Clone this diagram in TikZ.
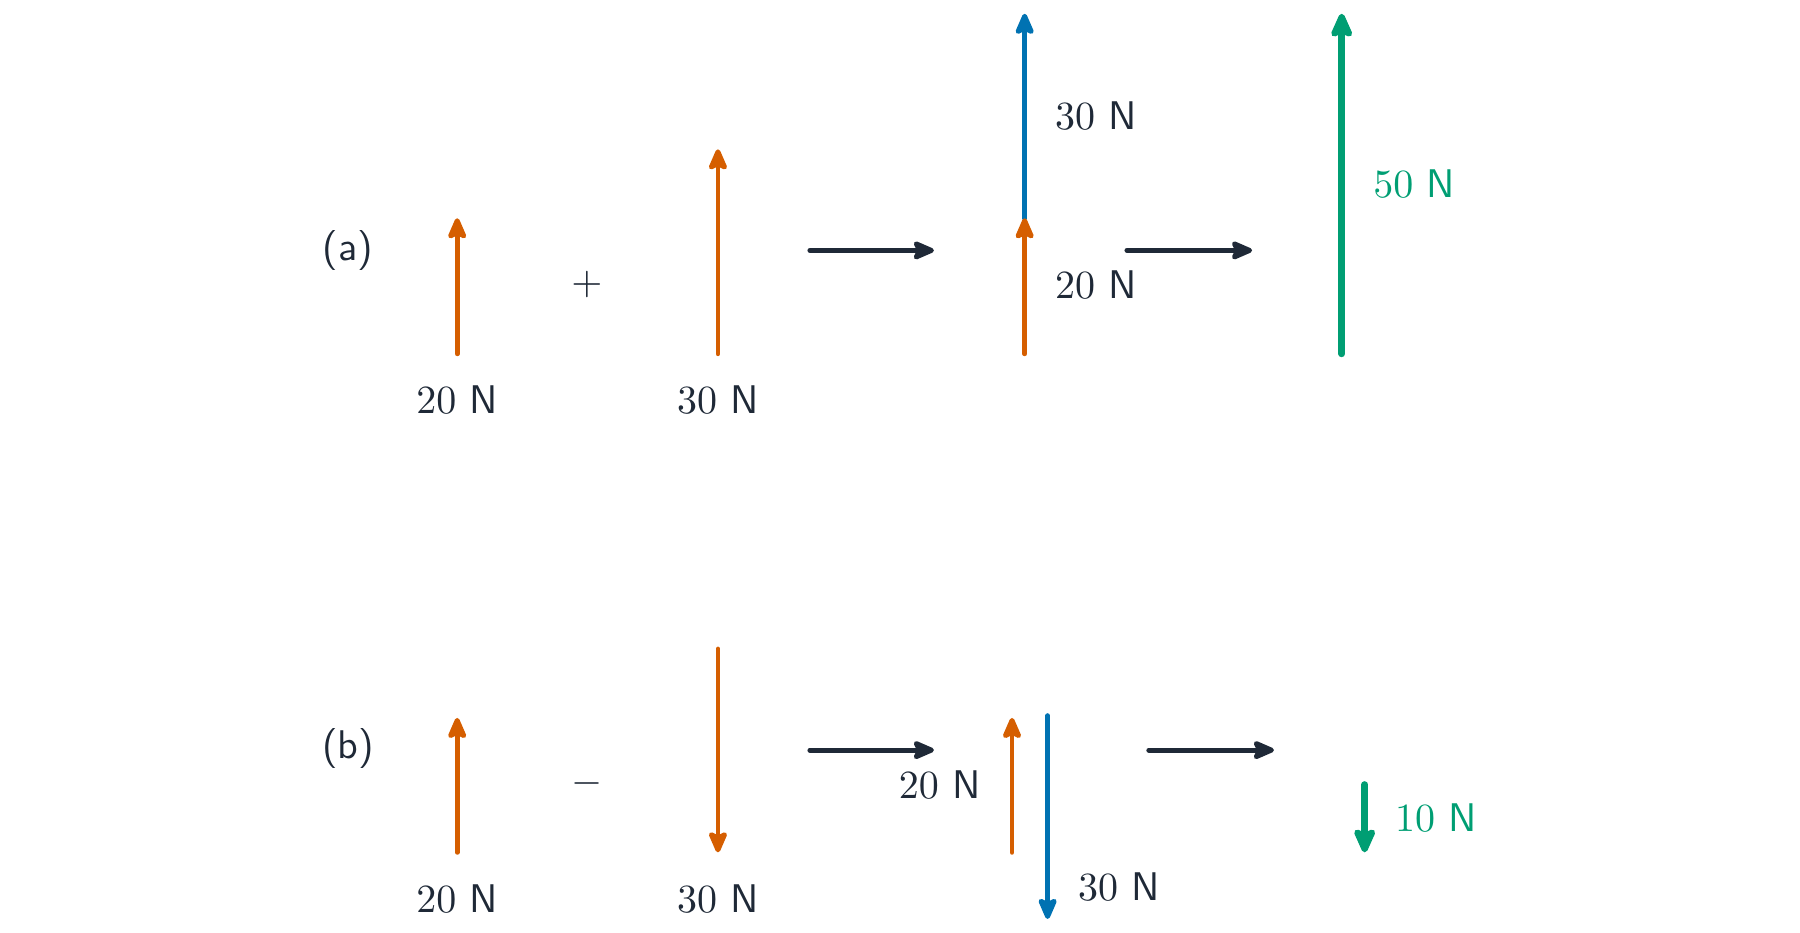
\documentclass[tikz,border=0pt]{standalone}
\usepackage{amsmath}
\usepackage{tikz}
\usetikzlibrary{arrows,arrows.meta,positioning}
\definecolor{forceorange}{RGB}{213,94,0}
\definecolor{forceblue}{RGB}{0,114,178}
\definecolor{forcegreen}{RGB}{0,158,115}
\definecolor{inkdark}{RGB}{31,41,55}

\begin{document}
\begin{tikzpicture}[x=0.28717pt,y=0.28717pt, line cap=round,
    >={Stealth[length=6.5pt,width=5.5pt,inset=1.3pt,round]},
    force/.style={->,line width=1.2pt},
    sum/.style={-{Stealth[length=7.5pt,width=6.5pt,inset=1.5pt,round]},line width=1.7pt,draw=forcegreen},
    step arrow/.style={->,line width=1.2pt,draw=inkdark},
    lbl/.style={text=inkdark,inner sep=0pt},
    gl/.style={text=forcegreen,inner sep=0pt}]
        \useasboundingbox (0,120.8) rectangle (1567,933);
        % (a) addition
        \node[lbl] (la) at (303,715) {\textsf{(a)}};
        \coordinate (a1s) at (398,625);  \coordinate (a1e) at (398,743);
        \coordinate (a2s) at (625,625);  \coordinate (a2e) at (625,803);
        \coordinate (a3s) at (892,625);  \coordinate (a3m) at (892,743);
        \coordinate (a3e) at (892,921);
        \coordinate (a4s) at (1168,625); \coordinate (a4e) at (1168,921);
        \coordinate (ap1s) at (705,715); \coordinate (ap1e) at (813,715);
        \coordinate (ap2s) at (981,715); \coordinate (ap2e) at (1090,715);
        \node[lbl] (aplus) at (511,685) {$+$};
        \node[lbl] (a1l) at (398,585) {$20$ \textsf{N}};
        \node[lbl] (a2l) at (625,585) {$30$ \textsf{N}};
        \node[lbl] (a3l) at (954,685) {$20$ \textsf{N}};
        \node[lbl] (a3u) at (954,832) {$30$ \textsf{N}};
        \node[gl]  (a4l) at (1231,773) {$50$ \textsf{N}};

        \draw[force,forceorange] (a1s) -- (a1e);
        \draw[force,forceorange] (a2s) -- (a2e);
        \draw[force,forceblue]   (a3m) -- (a3e);
        \draw[force,forceorange] (a3s) -- (a3m);
        \draw[sum]               (a4s) -- (a4e);
        \draw[step arrow] (ap1s) -- (ap1e);
        \draw[step arrow] (ap2s) -- (ap2e);

        % (b) subtraction
        \node[lbl] (lb) at (303,281) {\textsf{(b)}};
        \coordinate (b1s) at (398,191);  \coordinate (b1e) at (398,308);
        \coordinate (b2s) at (625,368);  \coordinate (b2e) at (625,191);
        \coordinate (b3s) at (881,191);  \coordinate (b3e) at (881,308);
        \coordinate (b4s) at (912,310);  \coordinate (b4e) at (912,133);
        \coordinate (b5s) at (1188,250); \coordinate (b5e) at (1188,191);
        \coordinate (bp1s) at (705,280); \coordinate (bp1e) at (813,280);
        \coordinate (bp2s) at (1000,280); \coordinate (bp2e) at (1109,280);
        \node[lbl] (bminus) at (511,251) {$-$};
        \node[lbl] (b1l) at (398,151) {$20$ \textsf{N}};
        \node[lbl] (b2l) at (625,151) {$30$ \textsf{N}};
        \node[lbl] (b3l) at (818,250) {$20$ \textsf{N}};
        \node[lbl] (b4l) at (974,161) {$30$ \textsf{N}};
        \node[gl]  (b5l) at (1250,221) {$10$ \textsf{N}};

        \draw[force,forceorange] (b1s) -- (b1e);
        \draw[force,forceorange] (b2s) -- (b2e);
        \draw[force,forceorange] (b3s) -- (b3e);
        \draw[force,forceblue]   (b4s) -- (b4e);
        \draw[sum]               (b5s) -- (b5e);
        \draw[step arrow] (bp1s) -- (bp1e);
        \draw[step arrow] (bp2s) -- (bp2e);
\end{tikzpicture}
\end{document}
